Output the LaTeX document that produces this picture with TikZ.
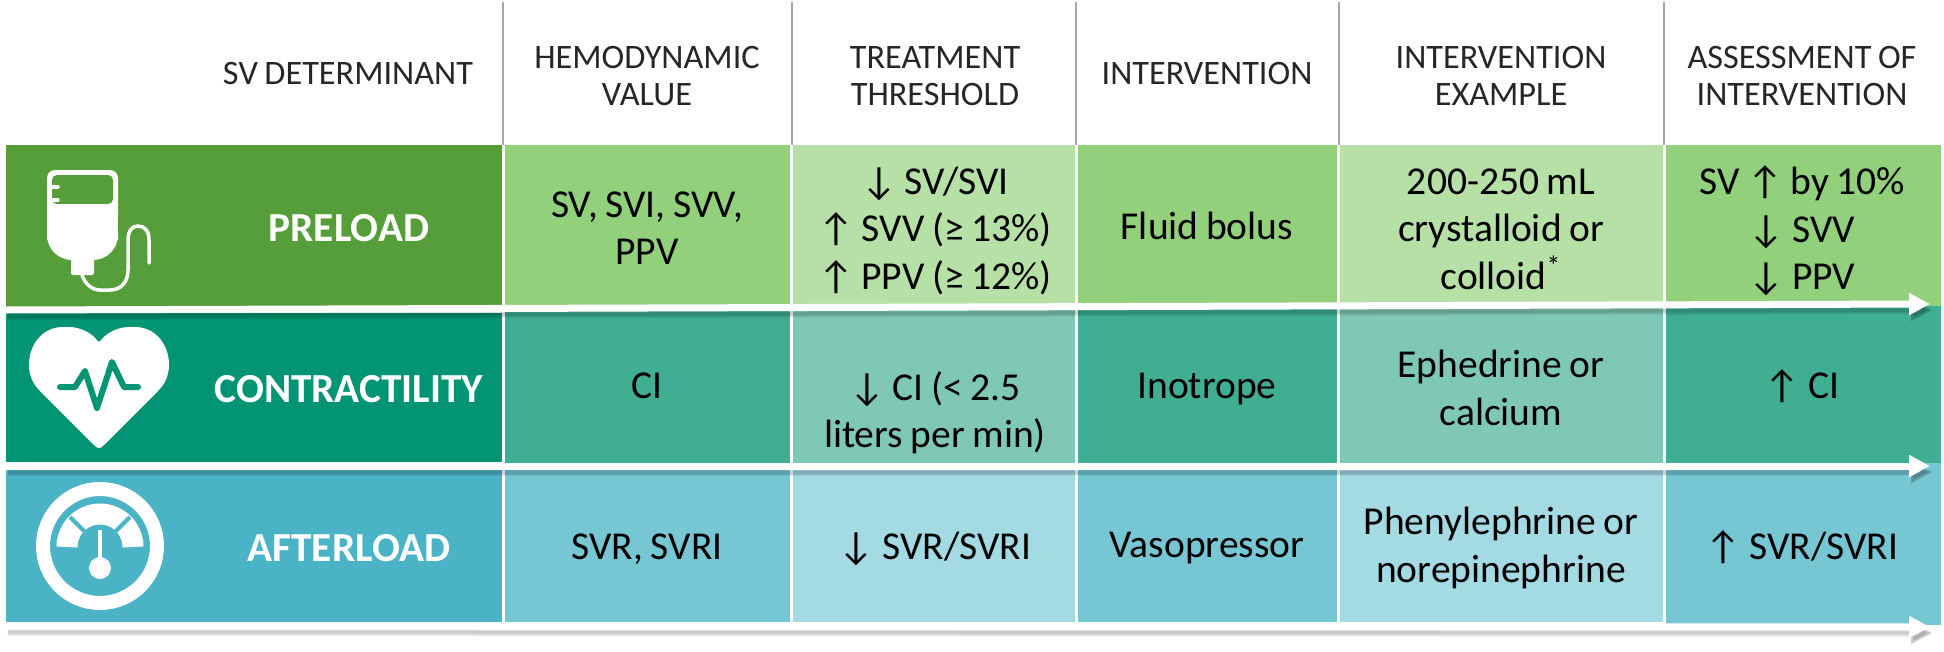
\documentclass[tikz,border=0pt]{standalone}
\usepackage{fontspec}
\setmainfont[WordSpace=0.85]{Carlito}
\usetikzlibrary{arrows.meta,calc}
\definecolor{preloadA}{HTML}{559E3A}
\definecolor{preloadB}{HTML}{92D07C}
\definecolor{preloadC}{HTML}{B7E0A7}
\definecolor{contractA}{HTML}{029473}
\definecolor{contractB}{HTML}{3FAE94}
\definecolor{contractC}{HTML}{80C8B6}
\definecolor{afterA}{HTML}{4AB3C5}
\definecolor{afterB}{HTML}{76C6D4}
\definecolor{afterC}{HTML}{A4DAE4}
\definecolor{headline}{HTML}{A6A6A6}
\tikzset{
	headtext/.style={align=center,text=black!85,font=\fontsize{19.5}{21}\selectfont},
	celltext/.style={align=center,text=black,font=\fontsize{22.5}{27}\selectfont},
	rowtext/.style={align=center,text=white,font=\fontsize{23.5}{25}\selectfont\bfseries},
	flowarrow/.style={white,line width=.14cm,-{Triangle[length=.42cm,width=.42cm]}},
	flowshadow/.style={black,opacity=.07,-{Triangle[length=.42cm,width=.42cm]}},
}
\begin{document}
\begin{tikzpicture}[x=.02cm,y=-.02cm]
	\useasboundingbox (0,0) rectangle (1944,652);
	% rows
	\fill [color=preloadA] (6,145) rectangle (502,307);
	\fill [color=preloadB] (505,145) rectangle (790,306);
	\fill [color=preloadC] (793,145) rectangle (1075,306);
	\fill [color=preloadB] (1078,145) rectangle (1337,306);
	\fill [color=preloadC] (1340,145) rectangle (1663,306);
	\fill [color=preloadB] (1666,145) rectangle (1941,306);
	\fill [color=contractA] (6,313) rectangle (502,462);
	\fill [color=contractB] (505,306) rectangle (790,463);
	\fill [color=contractC] (793,306) rectangle (1075,463);
	\fill [color=contractB] (1078,306) rectangle (1337,463);
	\fill [color=contractC] (1340,306) rectangle (1663,463);
	\fill [color=contractB] (1666,306) rectangle (1941,463);
	\fill [color=afterA] (6,470) rectangle (502,622);
	\fill [color=afterB] (505,463) rectangle (790,622);
	\fill [color=afterC] (793,463) rectangle (1075,622);
	\fill [color=afterB] (1078,463) rectangle (1337,622);
	\fill [color=afterC] (1340,463) rectangle (1663,622);
	\fill [color=afterB] (1666,463) rectangle (1941,625);

	% header lines
	\foreach \name/\xpos in {lineA/503,lineB/792,lineC/1076,lineD/1339,lineE/1664} {
		\coordinate (\name top) at (\xpos,2);
		\coordinate (\name bottom) at (\xpos,145);
		\draw [color=headline,line width=.05cm] (\name top) -- (\name bottom);
	}

	% arrows
	\coordinate (preloadstart) at (6,310);
	\coordinate (preloadend) at (1930,304);
	\coordinate (contractstart) at (6,466);
	\coordinate (contractend) at (1930,466);
	\coordinate (afterstart) at (6,626);
	\coordinate (afterend) at (1930,627);
	\foreach \from/\to in {preloadstart/preloadend,contractstart/contractend,afterstart/afterend} {
		\foreach \wide in {.06,.11,.16} {
			\draw [flowshadow,line width=\wide cm] ($(\from)+(2,6)$) -- ($(\to)+(2,6)$);
		}
		\draw [flowarrow] (\from) -- (\to);
	}

	% bag
	\fill [color=white,rounded corners=.5cm] (47,215) -- (47,260) -- (118,260) -- (118,215) -- cycle;
	\fill [color=white,rounded corners=.16cm] (47,225) -- (47,170) -- (118,170) -- (118,225) -- cycle;
	\fill [color=white] (47,195) rectangle (118,240);
	\fill [color=preloadA,rounded corners=.1cm] (52,204) |- (113,175) |- cycle;
	\fill [color=white] (52,204) rectangle (113,205);
	\draw [color=white,line width=.07cm,line cap=round] (52,187) -- (58,187);
	\draw [color=white,line width=.07cm,line cap=round] (52,200) -- (58,200);
	\fill [color=white,rounded corners=.04cm] (71,255) rectangle (94,275);
	\draw [color=white,line width=.07cm,line cap=round] (82,275) .. controls (85,284) and (92,290) .. (100,290) -- (110,290) .. controls (121,290) and (128,282) .. (128,270) -- (128,240) .. controls (128,231) and (132,226) .. (138,226) .. controls (145,226) and (149,231) .. (149,240) -- (149,263);

	% heart
	\fill [color=white,rounded corners=.06cm] (99,449) -- (95,446) -- (38,389) .. controls (20,366) and (32,327) .. (66,327) .. controls (80,327) and (92,333) .. (99,343) .. controls (106,333) and (118,327) .. (132,327) .. controls (166,327) and (178,366) .. (160,389) -- (103,446) -- cycle;
	\draw [color=contractA,line width=.12cm,line cap=round,line join=round] (60,387) -- (75,387) -- (85,371) -- (97,408) -- (112,362) -- (124,387) -- (138,387);

	% gauge
	\coordinate (gaugecentre) at (100,546);
	\coordinate (dialcentre) at (100,547);
	\coordinate (knobcentre) at (100,568);
	\draw [color=white,line width=.28cm] (gaugecentre) circle (57);
	\draw [color=white,line width=.42cm] (67,547) arc (-180:0:33);
	\draw [color=afterA,line width=.08cm] (70,517) -- (87,534);
	\draw [color=afterA,line width=.08cm] (130,517) -- (113,534);
	\draw [color=white,line width=.07cm] (100,530) -- (knobcentre);
	\fill [color=white] (knobcentre) circle (11);

	% header text
	\node [headtext] (headdet) at (348,74) {SV DETERMINANT};
	\node [headtext] (headval) at (647,76) {HEMODYNAMIC\\VALUE};
	\node [headtext] (headthr) at (935,76) {TREATMENT\\THRESHOLD};
	\node [headtext] (headint) at (1207,74) {INTERVENTION};
	\node [headtext] (headexa) at (1501,76) {INTERVENTION\\EXAMPLE};
	\node [headtext] (headass) at (1802,76) {ASSESSMENT OF\\INTERVENTION};

	% row text
	\node [rowtext] (preload) at (349,228) {PRELOAD};
	\node [rowtext] (contract) at (349,389) {CONTRACTILITY};
	\node [rowtext] (after) at (349,548) {AFTERLOAD};

	\node [celltext] (preval) at (647,228) {SV, SVI, SVV,\\PPV};
	\node [celltext] (prethr) at (935,231) {↓ SV/SVI\\↑ SVV (≥ 13\%)\\↑ PPV (≥ 12\%)};
	\node [celltext] (preint) at (1207,226) {Fluid bolus};
	\node [celltext] (preexa) at (1501,229) {200-250 mL\\crystalloid or\\colloid\textsuperscript{*}};
	\node [celltext] (preass) at (1802,231) {SV ↑ by 10\%\\↓ SVV\\↓ PPV};

	\node [celltext] (conval) at (647,386) {CI};
	\node [celltext] (conthr) at (935,413) {↓ CI (< 2.5\\liters per min)};
	\node [celltext] (conint) at (1207,389) {Inotrope};
	\node [celltext] (conexa) at (1501,388) {Ephedrine or\\calcium};
	\node [celltext] (conass) at (1802,386) {↑ CI};

	\node [celltext] (aftval) at (647,549) {SVR, SVRI};
	\node [celltext] (aftthr) at (935,549) {↓ SVR/SVRI};
	\node [celltext] (aftint) at (1207,548) {Vasopressor};
	\node [celltext] (aftexa) at (1501,548) {Phenylephrine or\\norepinephrine};
	\node [celltext] (aftass) at (1802,547) {↑ SVR/SVRI};
\end{tikzpicture}
\end{document}
